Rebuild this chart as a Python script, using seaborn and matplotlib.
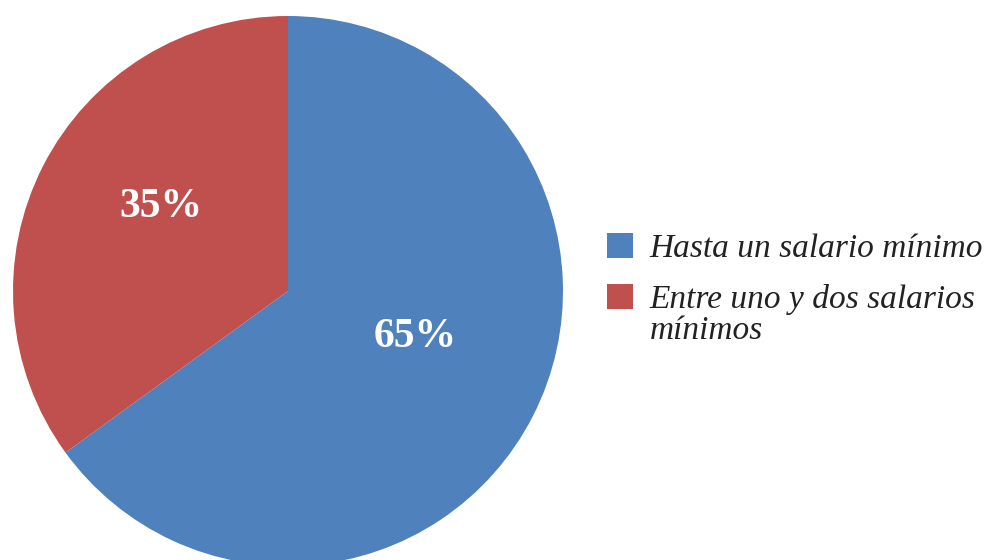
import matplotlib
matplotlib.use("Agg")
import matplotlib.pyplot as plt
import seaborn as sns

# =========================
# DATA
# =========================
categories = ["Hasta un salario mínimo", "Entre uno y dos salarios"]
wrap_line = "mínimos"
shares = [65, 35]
colors = ["#4F81BD", "#C0504D"]

sns.set_theme(style="white")
plt.rcParams["font.family"] = ["Liberation Serif", "DejaVu Serif"]

# =========================
# PLOT
# =========================
fig = plt.figure(figsize=(9.85, 5.6), dpi=100)
ax = fig.add_axes([13 / 985, -6 / 560, 550 / 985, 550 / 560])

wedges, texts, autotexts = ax.pie(
    shares,
    colors=sns.color_palette(colors),
    startangle=90,
    counterclock=False,
    autopct="%1.0f%%",
    pctdistance=0.52,
    radius=1.0,
    wedgeprops=dict(linewidth=0),
)
for t in autotexts:
    x, y = t.get_position()
    t.set_position((x, y + 0.07))
    t.set_color("white")
    t.set_fontsize(30)
    t.set_fontweight("bold")

ax.set_xlim(-1, 1)
ax.set_ylim(-1, 1)
ax.set_aspect("equal")
ax.axis("off")

leg = fig.legend(
    wedges, categories,
    loc="upper left",
    bbox_to_anchor=(607 / 985, 1 - 233 / 560),
    frameon=False,
    prop=dict(size=24, style="italic"),
    handlelength=0.78,
    handleheight=0.78,
    handletextpad=0.5,
    labelspacing=0.6,
    borderpad=0,
    borderaxespad=0,
)
for t in leg.get_texts():
    t.set_color("#222222")

# second legend label wraps onto a new line
fig.canvas.draw()
ax.annotate(
    wrap_line, xy=(0, 0), xycoords=leg.get_texts()[1],
    xytext=(0, 0), textcoords="offset points",
    ha="left", va="top", fontsize=24, style="italic", color="#222222",
    annotation_clip=False,
)

fig.savefig("out.png", dpi=100)
plt.close(fig)
